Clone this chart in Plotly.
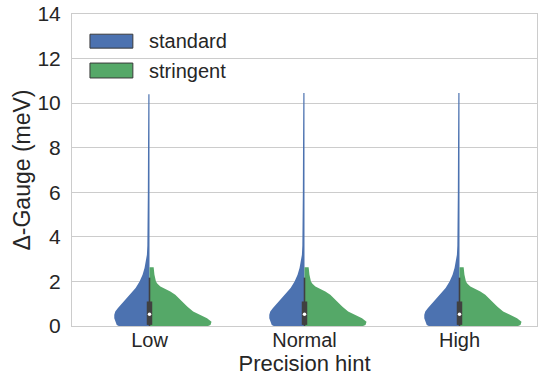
import plotly.graph_objects as go

# ---- data ----
categories = ["Low", "Normal", "High"]
series_names = ["standard", "stringent"]
series_colors = ["#4c72b0", "#55a868"]

# density profile (relative half-width, 1.0 = widest violin) for "standard"
standard_y = [0.0, 0.05, 0.19, 0.35, 0.5, 0.65, 0.8, 0.95, 1.1, 1.25, 1.4, 1.55, 1.7,
              2.0, 2.3, 2.6, 2.9, 3.2, 3.6, 4.5, 6.0, 8.0, 9.5]
standard_density = [0.496, 0.528, 0.552, 0.568, 0.568, 0.552, 0.512, 0.464, 0.416, 0.36,
                    0.304, 0.264, 0.224, 0.16, 0.112, 0.08, 0.056, 0.042, 0.035, 0.030,
                    0.027, 0.024, 0.022]
standard_max = [10.40, 10.45, 10.45]
standard_top_density = 0.019

# density profile for "stringent"
stringent_y = [0.0, 0.05, 0.19, 0.35, 0.5, 0.65, 0.88, 1.1, 1.25, 1.4, 1.55, 1.68, 1.77,
               1.9, 2.0, 2.3, 2.64]
stringent_density = [0.944, 0.984, 1.0, 0.928, 0.816, 0.704, 0.608, 0.528, 0.472, 0.416,
                     0.336, 0.24, 0.176, 0.128, 0.104, 0.08, 0.067]

# inner box statistics (combined)
box_q1 = [0.05, 0.05, 0.05]
box_median = [0.53, 0.53, 0.53]
box_q3 = [1.10, 1.10, 1.10]
whisker_low = [0.0, 0.0, 0.0]
whisker_high = [2.17, 2.17, 2.17]

y_ticks = [0, 2, 4, 6, 8, 10, 12, 14]

HALF = 0.4  # seaborn width 0.8
INK = "#262626"
GRID = "#cccccc"
BOXC = "#404040"
FONT = "Liberation Sans, Arial"

fig = go.Figure()

for i, cat in enumerate(categories):
    # standard: left half
    ys = standard_y + [standard_max[i]]
    ds = standard_density + [standard_top_density]
    xs_left = [i - d * HALF for d in ds]
    px = [i] + xs_left + [i, i]
    py = [ys[0]] + ys + [ys[-1], ys[0]]
    fig.add_trace(go.Scatter(x=px, y=py, mode="lines", fill="toself",
                             fillcolor=series_colors[0], line=dict(width=0, color=series_colors[0]),
                             hoverinfo="skip", showlegend=False))
    # stringent: right half
    xs_right = [i + d * HALF for d in stringent_density]
    px = [i] + xs_right + [i, i]
    py = [stringent_y[0]] + stringent_y + [stringent_y[-1], stringent_y[0]]
    fig.add_trace(go.Scatter(x=px, y=py, mode="lines", fill="toself",
                             fillcolor=series_colors[1], line=dict(width=0, color=series_colors[1]),
                             hoverinfo="skip", showlegend=False))
    # whisker
    fig.add_trace(go.Scatter(x=[i, i], y=[whisker_low[i], whisker_high[i]], mode="lines",
                             line=dict(color=BOXC, width=1.6), hoverinfo="skip", showlegend=False))
    # box
    fig.add_trace(go.Scatter(x=[i, i], y=[box_q1[i], box_q3[i]], mode="lines",
                             line=dict(color=BOXC, width=5.5), hoverinfo="skip", showlegend=False))
    # median
    fig.add_trace(go.Scatter(x=[i], y=[box_median[i]], mode="markers",
                             marker=dict(color="white", size=3.5, line=dict(width=0)),
                             hoverinfo="skip", showlegend=False))

# legend drawn manually to match matplotlib patches
W, H = 466.0, 313.6
def fx(p):
    return (p - 72) / W
def fy(p):
    return (326 - p) / H

legend_rows = [(32.7, 46.7), (61.7, 76.7)]
shapes = []
annotations = []
for (t, b), name, col in zip(legend_rows, series_names, series_colors):
    shapes.append(dict(type="rect", xref="paper", yref="paper",
                       x0=fx(90), x1=fx(133), y0=fy(b), y1=fy(t),
                       fillcolor=col, line=dict(color="#3a3a3a", width=1)))
    annotations.append(dict(xref="paper", yref="paper", x=fx(147), y=fy((t + b) / 2),
                            text=name, showarrow=False, xanchor="left", yanchor="middle",
                            font=dict(size=20, color=INK, family=FONT)))

fig.update_layout(
    width=540, height=381,
    margin=dict(l=72, r=2, t=12, b=55),
    paper_bgcolor="white", plot_bgcolor="white",
    font=dict(family=FONT, color=INK),
    shapes=shapes, annotations=annotations,
    showlegend=False,
)
fig.update_xaxes(range=[-0.5, 2.5], tickvals=[0, 1, 2], ticktext=categories,
                 showgrid=False, zeroline=False, showline=True, linecolor=GRID, linewidth=1,
                 mirror=True, ticks="", tickfont=dict(size=20, color=INK), ticklabelstandoff=-4,
                 title=dict(text="Precision hint", font=dict(size=22, color=INK), standoff=5))
fig.update_yaxes(range=[0, 14], tickvals=y_ticks, showgrid=True, gridcolor=GRID, gridwidth=1,
                 zeroline=False, showline=True, linecolor=GRID, linewidth=1, mirror=True,
                 ticks="", tickfont=dict(size=21, color=INK), ticklabelstandoff=6,
                 title=dict(text="Δ-Gauge (meV)", font=dict(size=23, color=INK), standoff=0))

fig.write_html("out.html")
